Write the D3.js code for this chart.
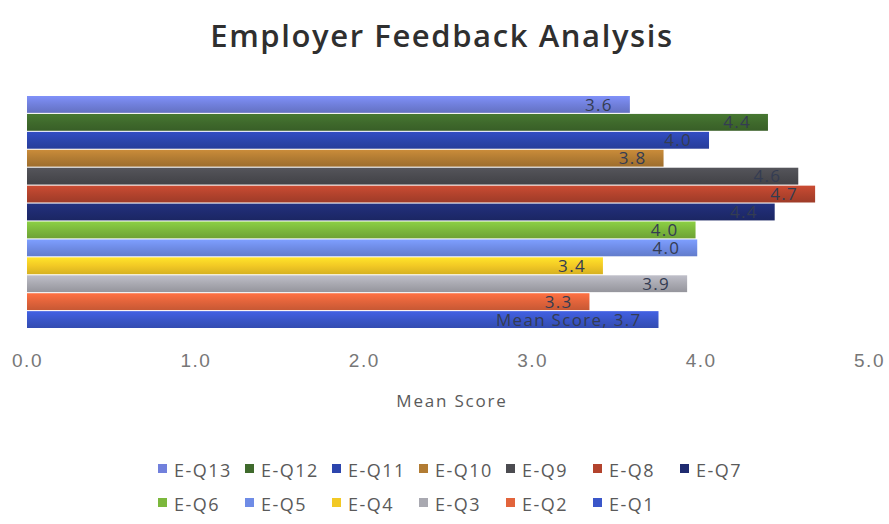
<!DOCTYPE html>
<html>
<head>
<meta charset="utf-8">
<title>Employer Feedback Analysis</title>
<style>
	body { margin: 0; background: #fff; }
	svg { display: block; font-family: "Open Sans", "Noto Sans", sans-serif; }
</style>
<script src="https://cdn.jsdelivr.net/npm/d3@7"></script>
</head>
<body>
<script>
	// data, top bar first
	var questions = ["E-Q13", "E-Q12", "E-Q11", "E-Q10", "E-Q9", "E-Q8", "E-Q7",
		"E-Q6", "E-Q5", "E-Q4", "E-Q3", "E-Q2", "E-Q1"];
	var meanScores = [3.58, 4.40, 4.05, 3.78, 4.58, 4.68, 4.44, 3.97, 3.98, 3.42, 3.92, 3.34, 3.75];
	var barLabels = ["3.6", "4.4", "4.0", "3.8", "4.6", "4.7", "4.4", "4.0", "4.0", "3.4", "3.9", "3.3", "Mean Score, 3.7"];
	var colors = ["#7180dc", "#3f6a2c", "#2c45ad", "#b27c33", "#4b4b50", "#b3432d", "#1f2b70",
		"#7cb83c", "#6f8ce6", "#f2c925", "#a9a9b1", "#e2643b", "#3a56c9"];
	var xTicks = [0, 1, 2, 3, 4, 5];
	var legendRows = [["E-Q13", "E-Q12", "E-Q11", "E-Q10", "E-Q9", "E-Q8", "E-Q7"],
		["E-Q6", "E-Q5", "E-Q4", "E-Q3", "E-Q2", "E-Q1"]];

	var W = 889, H = 524;
	var svg = d3.select("body").append("svg")
		.attr("width", W)
		.attr("height", H);

	var x = d3.scaleLinear().domain([0, 5]).range([27, 869]);
	var y = d3.scaleBand().domain(questions).range([96, 328]).paddingInner(0.06);
	var color = d3.scaleOrdinal().domain(questions).range(colors);

	// gradients for a slight bevel look
	var defs = svg.append("defs");
	questions.forEach(function(q, i) {
		var c = d3.color(colors[i]);
		var gr = defs.append("linearGradient")
			.attr("id", "g" + i)
			.attr("x1", 0).attr("y1", 0).attr("x2", 0).attr("y2", 1);
		gr.append("stop").attr("offset", "0%").attr("stop-color", c.brighter(0.35));
		gr.append("stop").attr("offset", "50%").attr("stop-color", c);
		gr.append("stop").attr("offset", "100%").attr("stop-color", c.darker(0.35));
	});

	svg.append("text")
		.attr("x", 442)
		.attr("y", 47)
		.attr("text-anchor", "middle")
		.attr("font-size", 31)
		.attr("font-weight", 600)
		.attr("letter-spacing", 1.6)
		.attr("fill", "#2f2f2f")
		.text("Employer Feedback Analysis");

	var data = questions.map(function(q, i) {
		return {q: q, v: meanScores[i], label: barLabels[i], i: i};
	});

	svg.selectAll(".bar").data(data).enter().append("rect")
		.attr("class", "bar")
		.attr("x", x(0))
		.attr("y", function(d) { return y(d.q); })
		.attr("width", function(d) { return x(d.v) - x(0); })
		.attr("height", y.bandwidth())
		.attr("fill", function(d) { return "url(#g" + d.i + ")"; });

	svg.selectAll(".lbl").data(data).enter().append("text")
		.attr("class", "lbl")
		.attr("x", function(d) { return x(d.v) - 17; })
		.attr("y", function(d) { return y(d.q) + y.bandwidth() / 2; })
		.attr("dy", "0.36em")
		.attr("text-anchor", "end")
		.attr("font-size", 17)
		.attr("letter-spacing", 1.3)
		.attr("fill", "#343c52")
		.text(function(d) { return d.label; });

	var axis = d3.axisBottom(x).tickValues(xTicks).tickFormat(d3.format(".1f")).tickSize(0).tickPadding(0);
	var ax = svg.append("g")
		.attr("transform", "translate(0,353)")
		.call(axis);
	ax.select(".domain").remove();
	ax.selectAll("text")
		.attr("font-size", 19)
		.attr("letter-spacing", 1.5)
		.attr("font-family", "inherit")
		.attr("fill", "#777");

	svg.append("text")
		.attr("x", 452)
		.attr("y", 407)
		.attr("text-anchor", "middle")
		.attr("font-size", 17)
		.attr("letter-spacing", 1.8)
		.attr("fill", "#5a5a5a")
		.text("Mean Score");

	// legend, laid out as a grid
	var rowY = [477, 511], colStep = 87;
	legendRows.forEach(function(row, r) {
		var item = svg.selectAll(".leg" + r).data(row).enter().append("g")
			.attr("class", "leg" + r)
			.attr("transform", function(d, i) { return "translate(" + (158 + i * colStep) + "," + rowY[r] + ")"; });
		item.append("rect")
			.attr("x", 0).attr("y", -13)
			.attr("width", 9).attr("height", 9)
			.attr("fill", function(d) { return color(d); });
		item.append("text")
			.attr("x", 16)
			.attr("font-size", 18)
			.attr("letter-spacing", 1.5)
			.attr("fill", "#5a5a5a")
			.text(function(d) { return d; });
	});
</script>
</body>
</html>
